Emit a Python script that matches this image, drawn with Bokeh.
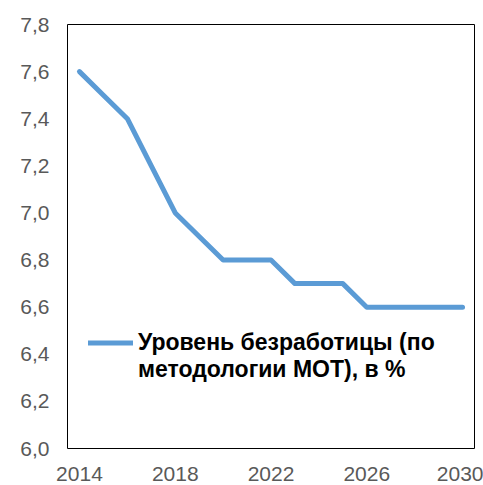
from bokeh.plotting import figure
from bokeh.models import FixedTicker, Range1d, Legend, LegendItem
from bokeh.embed import file_html
from bokeh.resources import INLINE

years = [2014, 2015, 2016, 2017, 2018, 2019, 2020, 2021, 2022, 2023, 2024, 2025, 2026, 2027, 2028, 2029, 2030]
unemployment = [7.6, 7.5, 7.4, 7.2, 7.0, 6.9, 6.8, 6.8, 6.8, 6.7, 6.7, 6.7, 6.6, 6.6, 6.6, 6.6, 6.6]
x_ticks = [2014, 2018, 2022, 2026, 2030]
y_ticks = [6.0, 6.2, 6.4, 6.6, 6.8, 7.0, 7.2, 7.4, 7.6, 7.8]
y_tick_labels = ["6,0", "6,2", "6,4", "6,6", "6,8", "7,0", "7,2", "7,4", "7,6", "7,8"]
series_label_lines = ["Уровень безработицы (по", "методологии МОТ), в %"]

p = figure(width=483, height=485, output_backend="svg", toolbar_location=None,
           x_range=Range1d(2013.5, 2030.5), y_range=Range1d(6.0, 7.8),
           min_border_left=67, min_border_right=9, min_border_top=24, min_border_bottom=37)

r = p.line(years, unemployment, line_color="#5B9BD5", line_width=5, line_cap="round", line_join="round")
r_blank = p.line([], [], line_alpha=0)

p.outline_line_color = "#000000"
p.outline_line_width = 1
p.xgrid.visible = False
p.ygrid.visible = False
p.background_fill_color = "white"
p.border_fill_color = "white"

for ax in (p.xaxis[0], p.yaxis[0]):
    ax.axis_line_color = None
    ax.major_tick_line_color = None
    ax.minor_tick_line_color = None
    ax.major_label_text_font = "Liberation Sans"
    ax.major_label_text_font_size = "21px"
    ax.major_label_text_color = "#595959"

p.xaxis[0].ticker = FixedTicker(ticks=x_ticks)
p.xaxis[0].major_label_standoff = 12
p.yaxis[0].ticker = FixedTicker(ticks=y_ticks)
p.yaxis[0].major_label_overrides = {t: l for t, l in zip(y_ticks, y_tick_labels)}
p.yaxis[0].major_label_standoff = 12

legend = Legend(items=[LegendItem(label=series_label_lines[0], renderers=[r]),
                       LegendItem(label=series_label_lines[1], renderers=[r_blank])],
                location=(21, 65), padding=0, margin=0, spacing=0,
                border_line_color=None, background_fill_alpha=0,
                label_text_font="Liberation Sans", label_text_font_style="bold",
                label_text_font_size="23px", label_text_color="#000000",
                glyph_width=45, glyph_height=27, label_height=27, label_standoff=5)
p.add_layout(legend, "center")

open("out.html", "w").write(file_html(p, INLINE))
